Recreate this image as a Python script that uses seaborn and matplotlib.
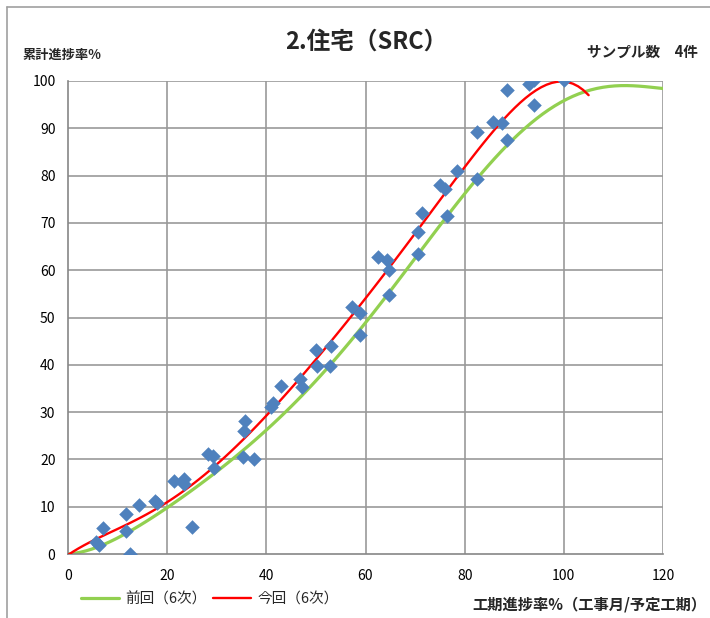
import numpy as np
import pandas as pd
import seaborn as sns
import matplotlib.pyplot as plt
from matplotlib.lines import Line2D

# 今回 observed points (工期進捗率, 累計進捗率)
pts_x = [5.7, 6.2, 7.1, 11.7, 11.7, 12.5, 14.3, 17.5, 18.0, 21.4, 23.4, 23.4, 25.0,
         28.2, 29.2, 29.4, 35.3, 35.5, 35.7, 37.5, 40.9, 41.3, 43.0, 46.8, 47.2,
         50.0, 50.2, 53.0, 52.8, 57.3, 58.9, 58.9, 62.5, 64.3, 64.7, 64.7, 70.6,
         71.4, 70.6, 75.0, 76.0, 76.4, 78.5, 82.5, 82.5, 85.7, 87.5, 88.5, 88.5,
         93.0, 94.0, 94.0, 100.0]
pts_y = [2.5, 2.0, 5.5, 8.5, 4.9, 0.0, 10.3, 11.3, 10.8, 15.4, 15.8, 14.8, 5.7,
         21.1, 20.8, 18.2, 20.5, 25.9, 28.1, 20.1, 31.1, 31.9, 35.5, 36.9, 35.3,
         43.1, 39.7, 44.0, 39.7, 52.2, 51.0, 46.3, 62.8, 62.2, 60.0, 54.8, 68.1,
         72.1, 63.4, 78.0, 77.2, 71.5, 81.0, 89.2, 79.3, 91.3, 91.1, 98.1, 87.5,
         99.4, 100.2, 94.9, 100.2]

# trend curves
prev_x = [0, 5, 10, 15, 20, 25, 30, 35, 40, 45, 50, 55, 60, 65, 70, 75, 80, 85,
          90, 95, 100, 105, 110, 115, 120]
prev_y = [0, 1.1, 3.4, 6.4, 9.8, 13.6, 17.5, 21.5, 25.8, 31.0, 36.9, 43.0, 49.3,
          55.6, 62.0, 69.0, 76.0, 82.6, 88.3, 92.7, 95.8, 97.7, 98.8, 99.1, 98.4]
curr_x = [0, 5, 10, 15, 20, 25, 30, 35, 40, 45, 50, 55, 60, 65, 70, 75, 80, 85,
          90, 95, 100, 105]
curr_y = [0, 2.4, 5.2, 8.1, 11.3, 14.8, 18.8, 23.5, 29.0, 35.0, 41.3, 47.8, 54.3,
          60.8, 67.5, 74.5, 81.8, 88.7, 94.3, 98.3, 99.9, 97.0]

sns.set_style('white')
plt.rcParams['font.family'] = ['Noto Sans CJK JP', 'DejaVu Sans']

fig = plt.figure(figsize=(7.1, 6.18), dpi=100)
ax = fig.add_axes([68/710, 1-554/618, (663-68)/710, (554-81)/618])

grid_c = '#999999'
for v in range(10, 101, 10):
    ax.axhline(v, color=grid_c, lw=1.2, zorder=0)
for v in range(20, 121, 20):
    ax.axvline(v, color=grid_c, lw=1.2, zorder=0)

# polynomial trendlines, like the spreadsheet ones
sns.regplot(x=prev_x, y=prev_y, ax=ax, order=6, ci=None, scatter=False,
            line_kws=dict(color='#92D050', lw=2.3, zorder=2))
sns.regplot(x=curr_x, y=curr_y, ax=ax, order=6, ci=None, scatter=False,
            line_kws=dict(color='#FF0000', lw=1.7, zorder=3))
sns.scatterplot(x=pts_x, y=pts_y, ax=ax, marker='D', s=55, color='#4F81BD',
                edgecolor='#4F81BD', linewidth=0, zorder=4)

ax.set_xlim(0, 120)
ax.set_ylim(0, 100)
ax.set_xticks(range(0, 121, 20))
ax.set_yticks(range(0, 101, 10))
ax.set_xlabel('')
ax.set_ylabel('')
for s in ['top', 'right']:
    ax.spines[s].set_visible(False)
for s in ['left', 'bottom']:
    ax.spines[s].set_color('#868686')
    ax.spines[s].set_linewidth(1.2)
ax.tick_params(axis='both', direction='out', length=5, width=1, color='#868686',
               labelsize=10, labelcolor='black', pad=4)
ax.tick_params(axis='x', pad=6)

fig.text(366/710, 1-42/618, '2.住宅（SRC）', fontsize=17, fontweight='bold',
         ha='center', va='center')
fig.text(22/710, 1-55/618, '累計進捗率%', fontsize=9.5, fontweight='bold',
         ha='left', va='center')
fig.text(698/710, 1-52/618, 'サンプル数　4件', fontsize=10.5, fontweight='bold',
         ha='right', va='center')
fig.text(706/710, 1-604/618, '工期進捗率%（工事月/予定工期）', fontsize=11,
         fontweight='bold', ha='right', va='center')

handles = [Line2D([], [], color='#92D050', lw=2.3),
           Line2D([], [], color='#FF0000', lw=1.7)]
fig.legend(handles, ['前回（6次）', '今回（6次）'], loc='center left',
           bbox_to_anchor=(68/710, 1-599/618), ncol=2, frameon=False,
           fontsize=10.5, handlelength=2.6, handletextpad=0.45, columnspacing=0.4)

# outer chart frame
fig.add_artist(Line2D([7/710, 7/710], [0, 1-7/618], color='#a0a0a0', lw=1.2))
fig.add_artist(Line2D([7/710, 1], [1-7/618, 1-7/618], color='#a0a0a0', lw=1.2))

fig.savefig('out.png', dpi=100)
